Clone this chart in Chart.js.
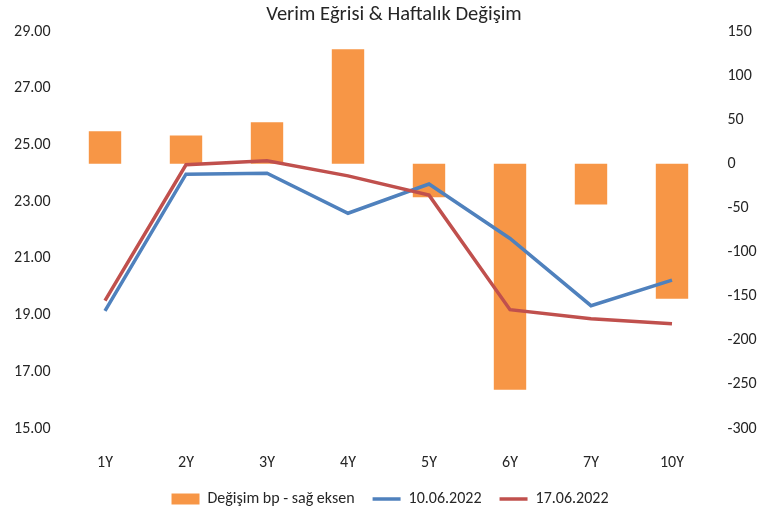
<!DOCTYPE html>
<html>
<head>
<meta charset="utf-8">
<script src="https://cdn.jsdelivr.net/npm/chart.js@4/dist/chart.umd.min.js"></script>
<style>
  html, body { margin: 0; padding: 0; background: #ffffff; }
  #wrap { width: 764px; height: 516px; }
</style>
</head>
<body>
<div id="wrap"><canvas id="c" width="764" height="516"></canvas></div>
<script>
const categories = ["1Y", "2Y", "3Y", "4Y", "5Y", "6Y", "7Y", "10Y"];
const changeBp = [37, 32, 47, 130, -38, -256, -46, -153];
const yield1006 = [19.15, 23.97, 24.00, 22.59, 23.62, 21.70, 19.33, 20.23];
const yield1706 = [19.51, 24.30, 24.44, 23.91, 23.23, 19.19, 18.87, 18.69];
const seriesNames = ["Değişim bp - sağ eksen", "10.06.2022", "17.06.2022"];
const chartTitle = "Verim Eğrisi & Haftalık Değişim";

const FONT = 'Carlito, "Liberation Sans Narrow", "Open Sans", sans-serif';
const TXT = '#262626';

// shifts the title and legend blocks sideways to match the reference centring
const shiftBlocks = {
  id: 'shiftBlocks',
  afterLayout(chart) {
    if (chart.titleBlock) { chart.titleBlock.left += 12; chart.titleBlock.right += 12; }
    if (chart.legend) { chart.legend.left += 8; chart.legend.right += 8; }
  }
};

new Chart(document.getElementById('c'), {
  data: {
    labels: categories,
    datasets: [
      {
        type: 'line', label: seriesNames[1], data: yield1006, yAxisID: 'y',
        borderColor: '#4F81BD', backgroundColor: '#4F81BD', borderWidth: 3.5,
        pointRadius: 0, tension: 0, order: 1
      },
      {
        type: 'line', label: seriesNames[2], data: yield1706, yAxisID: 'y',
        borderColor: '#C0504D', backgroundColor: '#C0504D', borderWidth: 3.5,
        pointRadius: 0, tension: 0, order: 0
      },
      {
        type: 'bar', label: seriesNames[0], data: changeBp, yAxisID: 'y1',
        backgroundColor: '#F79646', borderWidth: 0,
        categoryPercentage: 1.0, barPercentage: 0.4, order: 2
      }
    ]
  },
  plugins: [shiftBlocks],
  options: {
    responsive: false,
    animation: false,
    layout: { padding: { left: 0, right: 0, top: 0, bottom: -1 } },
    plugins: {
      title: {
        display: true, text: chartTitle, color: TXT,
        font: { family: FONT, size: 20.5, weight: 'normal' },
        padding: { top: 2.7, bottom: 4.2 }
      },
      legend: {
        position: 'bottom',
        labels: {
          color: TXT,
          font: { family: FONT, size: 16 },
          usePointStyle: true,
          pointStyleWidth: 28,
          boxHeight: 11,
          padding: 18,
          sort: (a, b) => {
            const ord = [seriesNames[0], seriesNames[1], seriesNames[2]];
            return ord.indexOf(a.text) - ord.indexOf(b.text);
          },
          generateLabels: (chart) => {
            return chart.data.datasets.map((ds, i) => ({
              text: ds.label,
              fillStyle: ds.type === 'bar' ? ds.backgroundColor : ds.borderColor,
              strokeStyle: ds.type === 'bar' ? ds.backgroundColor : ds.borderColor,
              lineWidth: ds.type === 'bar' ? 0 : 3.5,
              pointStyle: ds.type === 'bar' ? 'rect' : 'line',
              fontColor: TXT,
              hidden: false,
              datasetIndex: i
            }));
          }
        }
      },
      tooltip: { enabled: false }
    },
    scales: {
      x: {
        grid: { display: false, drawTicks: false },
        border: { display: false },
        ticks: { color: TXT, font: { family: FONT, size: 16 }, padding: 25 },
        afterFit: (s) => { s.height = 44.5; }
      },
      y: {
        position: 'left', min: 15, max: 29,
        grid: { display: false, drawTicks: false },
        border: { display: false },
        ticks: {
          stepSize: 2, color: TXT, font: { family: FONT, size: 16 }, padding: 14,
          callback: (v) => Number(v).toFixed(2)
        },
        afterFit: (s) => { s.width = 64.5; }
      },
      y1: {
        position: 'right', min: -300, max: 150,
        grid: { display: false, drawTicks: false },
        border: { display: false },
        ticks: { stepSize: 50, color: TXT, font: { family: FONT, size: 16 }, padding: 15 },
        afterFit: (s) => { s.width = 51.5; }
      }
    }
  }
});
</script>
</body>
</html>
